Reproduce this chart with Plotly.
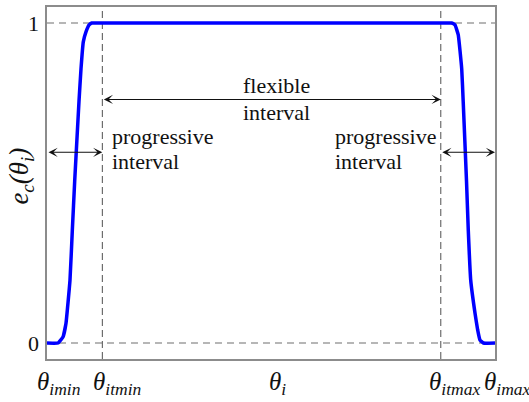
import plotly.graph_objects as go

# Normalised angle axis: theta_imin = 0, theta_imax = 1
theta = [0.0, 0.0246, 0.0357, 0.0424, 0.0513, 0.0565, 0.0618, 0.0714, 0.0759,
         0.081, 0.087, 0.094, 0.100, 0.12,
         0.5,
         0.88, 0.9033, 0.9107, 0.918, 0.9257, 0.929, 0.9364, 0.9404, 0.9458, 0.9554,
         0.9614, 0.9665, 0.974, 1.0]
e_c = [0.0, 0.0, 0.019, 0.062, 0.196, 0.351, 0.506, 0.755, 0.857,
       0.941, 0.972, 0.994, 1.0, 1.0,
       1.0,
       1.0, 1.0, 0.994, 0.963, 0.857, 0.755, 0.506, 0.351, 0.196, 0.093,
       0.040, 0.009, 0.0, 0.0]

theta_itmin = 0.1235
theta_itmax = 0.879
flex_arrow_y = 0.761
prog_arrow_y = 0.596

# tick names along the angle axis and their left edges
x_names = ["imin", "itmin", "i", "itmax", "imax"]
x_left = [-0.027, 0.098, 0.492, 0.848, 0.971]

Y_MIN, Y_MAX = -0.05, 1.05
SERIF = "Liberation Serif"
GRID_DASH = "#6e6e6e"
FRAME = "#8c8c8c"

fig = go.Figure()
fig.add_trace(go.Scatter(
    x=theta, y=e_c, mode="lines",
    line=dict(color="#0000ff", width=3.5, shape="spline", smoothing=0.3),
    hoverinfo="skip", showlegend=False,
))

# dashed guides at e_c = 0 and 1
for yv in (0, 1):
    fig.add_shape(type="line", xref="x", yref="y", x0=0, x1=1, y0=yv, y1=yv,
                  line=dict(color=GRID_DASH, width=1.2, dash="7px,5px"), layer="below")
# dashed guides at the flexible interval bounds
for xv in (theta_itmin, theta_itmax):
    fig.add_shape(type="line", xref="x", yref="paper", x0=xv, x1=xv, y0=0, y1=1,
                  line=dict(color="#505050", width=1.0, dash="7px,4px"), layer="below")

def double_arrow(x0, x1, y):
    fig.add_annotation(x=x1, y=y, ax=x0, ay=y, xref="x", yref="y", axref="x", ayref="y",
                       text="", showarrow=True, arrowhead=3, arrowsize=1.4, arrowwidth=1.1,
                       arrowcolor="#111111", arrowside="end+start", standoff=0, startstandoff=0)

double_arrow(theta_itmin, theta_itmax, flex_arrow_y)
double_arrow(0.0, theta_itmin, prog_arrow_y)
double_arrow(theta_itmax, 1.0, prog_arrow_y)

def to_paper_y(v):
    return (v - Y_MIN) / (Y_MAX - Y_MIN)

def label(x, y, txt, size=22, xanchor="left", angle=0):
    # x, y given in data units; placed in paper space so labels outside the frame still show
    fig.add_annotation(x=x, y=to_paper_y(y), xref="paper", yref="paper", text=txt,
                       showarrow=False, xanchor=xanchor, yanchor="middle", textangle=angle,
                       font=dict(family=SERIF, size=size, color="#111111"))

label(0.513, 0.805, "flexible", xanchor="center")
label(0.513, 0.720, "interval", xanchor="center")
label(0.141, 0.645, "progressive")
label(0.141, 0.567, "interval")
label(0.638, 0.645, "progressive")
label(0.638, 0.567, "interval")

# value labels on the vertical axis
label(-0.014, 1.0, "1", xanchor="right")
label(-0.014, 0.0, "0", xanchor="right")

# angle labels under the frame
for xl, nm in zip(x_left, x_names):
    label(xl, -0.125, "<i>θ<sub>%s</sub></i>" % nm, size=25)

label(-0.058, 0.52, "<i>e<sub>c</sub>(θ<sub>i</sub>)</i>", size=27, xanchor="center", angle=-90)

fig.update_xaxes(range=[0, 1], showgrid=False, zeroline=False, showticklabels=False,
                 ticks="", showline=True, mirror=True, linecolor=FRAME, linewidth=1.5)
fig.update_yaxes(range=[Y_MIN, Y_MAX], showgrid=False, zeroline=False, showticklabels=False,
                 ticks="", showline=True, mirror=True, linecolor=FRAME, linewidth=1.5)
fig.update_layout(
    width=529, height=402,
    margin=dict(l=47, r=34, t=5, b=43),
    paper_bgcolor="white", plot_bgcolor="white",
    font=dict(family=SERIF, size=22, color="#111111"),
    showlegend=False,
)
fig.write_html("out.html")
